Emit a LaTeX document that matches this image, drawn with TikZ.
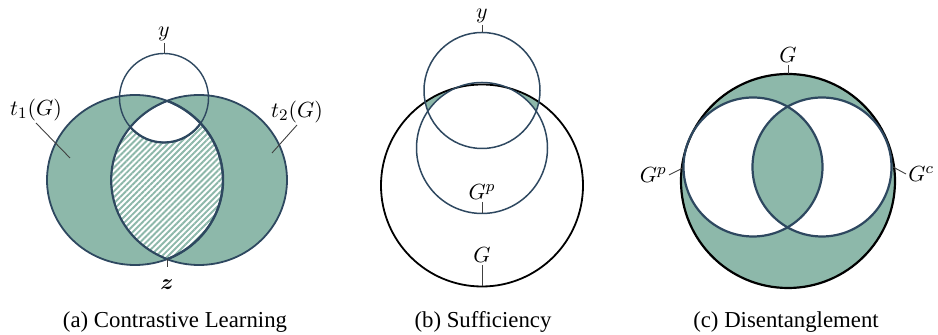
\documentclass[tikz,border=0pt]{standalone}
\usepackage{fontspec}
\setmainfont{Liberation Serif}
\usepackage{bm}
\usetikzlibrary{patterns.meta}
\definecolor{venn}{RGB}{141,184,170}
\definecolor{rim}{RGB}{46,72,96}
\begin{document}
\begin{tikzpicture}[
   x=0.5pt,y=-0.5pt,
   area/.style={fill=venn},
   rimline/.style={draw=rim,line width=0.9pt},
   outer/.style={draw=black,line width=0.9pt},
   tick/.style={draw=black!75,line width=0.45pt},
   lab/.style={inner sep=1pt,font=\fontsize{11.4}{13}\selectfont},
   caption/.style={inner sep=0pt,font=\fontsize{11.4}{13}\selectfont}
 ]
  \useasboundingbox (0,0) rectangle (938,335);

  % (a)
  \fill[area,even odd rule] (135,180) ellipse [x radius=88,y radius=85]
                            (199,180) ellipse [x radius=88,y radius=85];
  \begin{scope}
    \clip (135,180) ellipse [x radius=88,y radius=85];
    \fill[white] (199,180) ellipse [x radius=88,y radius=85];
    \fill[pattern={Lines[angle=45,distance=2.1pt,line width=0.95pt]},pattern color=venn]
      (199,180) ellipse [x radius=88,y radius=85];
    \clip (199,180) ellipse [x radius=88,y radius=85];
    \fill[white] (164,98) circle [radius=44.5];
    \draw[rimline,line width=1.1pt] (164,98) circle [radius=44.5];
    \draw[rimline,line width=1.2pt] (199,180) ellipse [x radius=88,y radius=85];
  \end{scope}
  \begin{scope}
    \clip (199,180) ellipse [x radius=88,y radius=85];
    \draw[rimline,line width=1.2pt] (135,180) ellipse [x radius=88,y radius=85];
  \end{scope}
  \draw[rimline] (135,180) ellipse [x radius=88,y radius=85];
  \draw[rimline] (199,180) ellipse [x radius=88,y radius=85];
  \draw[rimline,line width=0.7pt] (164,98) circle [radius=44.5];

  \coordinate (ay) at (164,53.5);
  \coordinate (az) at (167,259);
  \coordinate (at1) at (70,158);
  \coordinate (at2) at (272,153);
  \node[lab,anchor=south] (ylabA) at (164,43) {$y$};
  \node[lab,anchor=north,outer sep=5.5pt] (zlabA) at (167,267) {$\bm{z}$};
  \node[lab,anchor=south] (t1lab) at (36,123) {$t_1(G)$};
  \node[lab,anchor=south] (t2lab) at (297,125) {$t_2(G)$};
  \draw[tick] (ylabA.south) -- (ay);
  \draw[tick] (zlabA.north) -- (az);
  \draw[tick] (t1lab.south) -- (at1);
  \draw[tick] (t2lab.south) -- (at2);
  \node[caption] (capA) at (175,322) {(a) Contrastive Learning};

  % (b)
  \begin{scope}
    \clip (482,90.5) circle [radius=58];
    \clip (482,185.5) circle [radius=101];
    \fill[area,even odd rule] (482,185.5) circle [radius=101] (482,148) circle [radius=65.5];
  \end{scope}
  \draw[outer] (482,185.5) circle [radius=101];
  \draw[rimline,line width=0.75pt] (482,90.5) circle [radius=58];
  \draw[rimline,line width=0.75pt] (482,148) circle [radius=65.5];

  \coordinate (by) at (482,32.5);
  \coordinate (bgp) at (482,213.5);
  \coordinate (bg) at (482,286.5);
  \node[lab,anchor=south] (ylabB) at (482,25) {$y$};
  \node[lab,anchor=south] (gplabB) at (482,202) {$G^p$};
  \node[lab,anchor=south] (glabB) at (482,265) {$G$};
  \draw[tick] (ylabB.south) -- (by);
  \draw[tick] (gplabB.south) -- (bgp);
  \draw[tick] (glabB.south) -- (bg);
  \node[caption] (capB) at (483,322) {(b) Sufficiency};

  % (c)
  \fill[area,even odd rule] (788,181) circle [radius=107]
                            (753,167) circle [radius=69.5]
                            (822,167) circle [radius=69.5];
  \draw[outer,line width=1.1pt] (788,181) circle [radius=107];
  \draw[rimline,line width=1.1pt] (753,167) circle [radius=69.5];
  \draw[rimline,line width=1.1pt] (822,167) circle [radius=69.5];

  \coordinate (cg) at (788,74);
  \coordinate (cgp) at (683,168);
  \coordinate (cgc) at (893,167);
  \node[lab,anchor=south] (glabC) at (788,65) {$G$};
  \node[lab,anchor=east] (gplabC) at (669,175) {$G^p$};
  \node[lab,anchor=west] (gclabC) at (906,174) {$G^c$};
  \draw[tick] (glabC.south) -- (cg);
  \draw[tick] (gplabC.east) -- (cgp);
  \draw[tick] (gclabC.west) -- (cgc);
  \node[caption] (capC) at (786,322) {(c) Disentanglement};
 \end{tikzpicture}
\end{document}
